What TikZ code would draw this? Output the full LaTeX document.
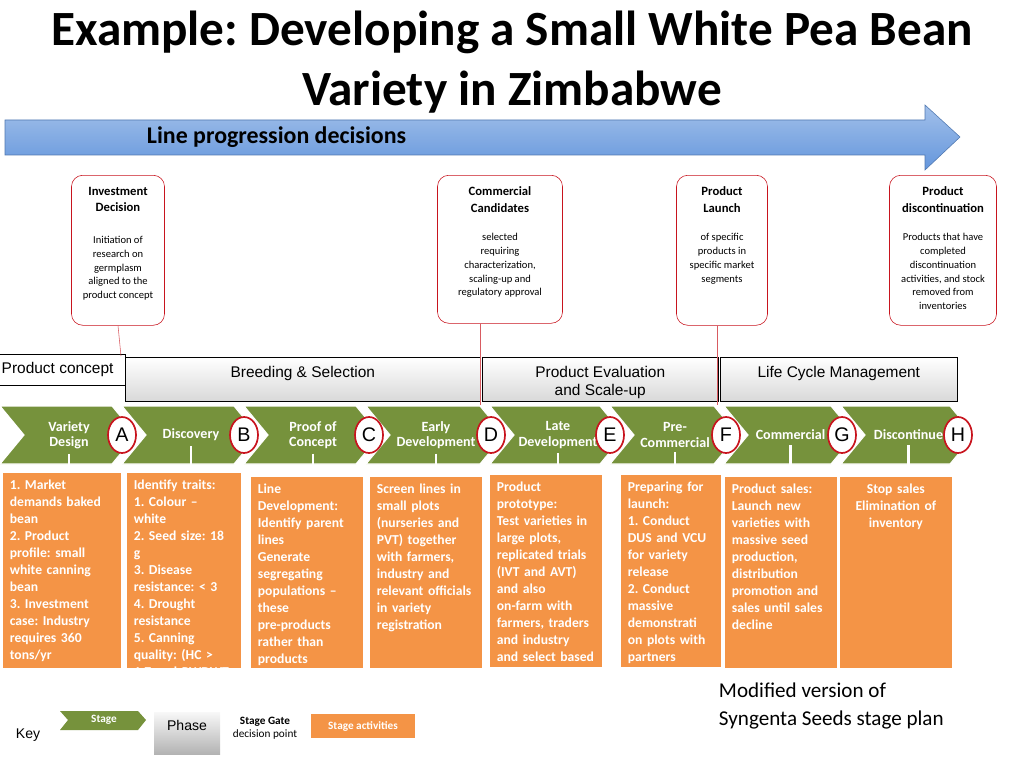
\documentclass[tikz,border=0pt]{standalone}
\usepackage{fontspec}
\setmainfont{Carlito}
\newfontfamily\arialfont{Liberation Sans}
\usetikzlibrary{positioning,shapes.geometric}
\definecolor{stagegreen}{RGB}{118,146,60}
\definecolor{actorange}{RGB}{244,148,70}
\definecolor{gatered}{RGB}{200,20,30}
\definecolor{arrowblue}{RGB}{100,150,220}
\frenchspacing
\newcommand{\acttext}[2]{\parbox[t][#1][t]{\linewidth}{\raggedright\hyphenpenalty=10000 #2}}
\tikzset{
  gate/.style={draw=gatered,fill=white,rounded corners=8pt,align=center,font=\fontsize{8}{10}\selectfont,anchor=north},
  phase/.style={draw=black,top color=white,bottom color=black!15,minimum height=44*0.025cm,font=\arialfont\fontsize{11}{13}\selectfont,align=center,inner sep=1pt},
  activity/.style={fill=actorange,draw=white,line width=2pt,anchor=north west,text=white,font=\bfseries\fontsize{9.7}{12.1}\selectfont,inner sep=6pt},
  letter/.style={ellipse,draw=gatered,very thick,fill=white,minimum width=28*0.025cm,minimum height=36*0.025cm,inner sep=0pt,font=\arialfont\fontsize{14}{14}\selectfont},
  stagetxt/.style={text=white,font=\bfseries\fontsize{10}{11}\selectfont,align=center}
}
\begin{document}
\begin{tikzpicture}[x=0.025cm,y=-0.025cm]
\useasboundingbox (0,0) rectangle (1024,768);
% title
\node[font=\bfseries\fontsize{35}{43}\selectfont,align=center] (title) at (512,62) {Example: Developing a Small White Pea Bean\\Variety in Zimbabwe};
% progression arrow
\draw[arrowblue!80!black,top color=arrowblue!60,bottom color=arrowblue] (5,120) -- (925,120) -- (925,105) -- (960,137) -- (925,170) -- (925,155) -- (5,155) -- cycle;
\node[anchor=west,font=\bfseries\fontsize{17}{20}\selectfont] (prog) at (142,137) {Line progression decisions};
% gate callouts
\node[gate,minimum width=93*0.025cm,minimum height=150*0.025cm] (inv) at (118,175) {};
\node[gate,minimum width=125*0.025cm,minimum height=148*0.025cm] (com) at (500,175) {};
\node[gate,minimum width=91*0.025cm,minimum height=150*0.025cm] (lau) at (722,175) {};
\node[gate,minimum width=107*0.025cm,minimum height=150*0.025cm] (dis) at (943,175) {};
\node[below=5pt of inv.north,font=\bfseries\fontsize{9}{11.5}\selectfont,align=center] {Investment\\Decision};
\node[below=40pt of inv.north,font=\fontsize{7.5}{9.8}\selectfont,align=center] {Initiation of\\research on\\germplasm\\aligned to the\\product concept};
\node[below=5pt of com.north,font=\bfseries\fontsize{9}{11.5}\selectfont,align=center] {Commercial\\Candidates};
\node[below=38pt of com.north,font=\fontsize{7.5}{9.8}\selectfont,align=center] {selected\\requiring\\characterization,\\scaling-up and\\regulatory approval};
\node[below=5pt of lau.north,font=\bfseries\fontsize{9}{11.5}\selectfont,align=center] {Product\\Launch};
\node[below=38pt of lau.north,font=\fontsize{7.5}{9.8}\selectfont,align=center] {of specific\\products in\\specific market\\segments};
\node[below=5pt of dis.north,font=\bfseries\fontsize{9}{11.5}\selectfont,align=center] {Product\\discontinuation};
\node[below=38pt of dis.north,font=\fontsize{7.5}{9.8}\selectfont,align=center] {Products that have\\completed\\discontinuation\\activities,  and stock\\removed from\\inventories};
% phases
\node[phase,anchor=north west,minimum width=127*0.025cm,minimum height=31*0.025cm,top color=white,bottom color=white] (ph0) at (-2,354) {};
\node[anchor=north west,font=\arialfont\fontsize{11}{13}\selectfont,inner sep=1pt] at (0,361) {Product concept};
\node[phase,anchor=north west,minimum width=355*0.025cm] (ph1) at (125,357) {};
\node[anchor=north,font=\arialfont\fontsize{11}{13}\selectfont] at (ph1.north) [yshift=-3pt] {Breeding \& Selection};
\node[phase,anchor=north west,minimum width=236*0.025cm] (ph2) at (482,357) {};
\node[anchor=north,font=\arialfont\fontsize{11}{13}\selectfont,align=center] at (ph2.north) [yshift=-3pt] {Product Evaluation\\and Scale-up};
\node[phase,anchor=north west,minimum width=237*0.025cm] (ph3) at (720,357) {};
\node[anchor=north,font=\arialfont\fontsize{11}{13}\selectfont] at (ph3.north) [yshift=-3pt] {Life Cycle Management};
\coordinate (c0) at (121,356);
\coordinate (c1) at (480,405);
\coordinate (c2) at (717,405);
\draw[gatered!70] (inv.south) -- (c0);
\draw[gatered!70] (com.south -| c1) -- (c1);
\draw[gatered!70] (lau.south -| c2) -- (c2);
% stages
\foreach \a/\b/\t [count=\i] in {0/122/Variety\\Design,122/244/Discovery,244/366/Proof of\\Concept,366/490/Early\\Development,490/610/Late\\Development,610/724/Pre-\\Commercial,724/841/Commercial,841/960/Discontinue}{
  \fill[stagegreen,draw=white,thick] (\a,406) -- (\b-10,406) -- (\b+14,435) -- (\b-10,464) -- (\a,464) -- (\a+24,435) -- cycle;
  \node[stagetxt] (s\i) at ({(\a+\b)/2+8},435) {\t};
}
\fill[white] (0,406) -- (24,435) -- (0,464) -- cycle;
\foreach \x/\l in {122/A,244/B,369/C,491/D,610/E,726/F,842/G,958/H}
  \node[letter] (g\l) at (\x,435) {\l};
% activities
\node[activity,text width=104*0.025cm] (a1) at (0,470) {\acttext{129pt}{1. Market demands  baked bean\\2. Product profile: small white canning bean\\3. Investment case:  Industry requires 360 tons/yr}};
\node[activity,text width=100*0.025cm] (a2) at (124,470) {\acttext{129pt}{Identify traits:\\1. Colour -- white\\2. Seed size: 18 g\\3. Disease resistance: < 3\\4. Drought resistance\\5. Canning quality: (HC > 1.7 and PWDWT > 80\%)}};
\node[activity,text width=98*0.025cm] (a3) at (248,474) {\acttext{126pt}{Line Development: Identify parent lines\\Generate segregating populations -- these  pre-products rather than products}};
\node[activity,text width=98*0.025cm] (a4) at (367,474) {\acttext{126pt}{Screen lines in small plots (nurseries and PVT) together with farmers, industry and relevant officials in variety registration}};
\node[activity,text width=98*0.025cm] (a5) at (487,472) {\acttext{127pt}{Product prototype:\\Test varieties in large plots, replicated trials (IVT and AVT) and also on-farm with farmers, traders and industry and select based on set criteria}};
\node[activity,text width=86*0.025cm] (a6) at (618,472) {\acttext{127pt}{Preparing for launch:\\1. Conduct DUS and VCU for variety release\\2. Conduct massive demonstrati on plots with partners}};
\node[activity,text width=98*0.025cm] (a7) at (722,474) {\acttext{126pt}{Product sales: Launch new varieties with massive seed production, distribution promotion and sales until sales decline}};
\node[activity,text width=98*0.025cm] (a8) at (837,474) {\parbox[t][126pt][t]{\linewidth}{\centering Stop sales\\Elimination of\\inventory}};
\foreach \i in {1,...,8} \draw[white,line width=2pt] (s\i.south) -- (s\i.south |- a\i.north);
% note
\node[anchor=north west,align=left,font=\fontsize{15}{20}\selectfont] (note) at (714,678) {Modified version of\\Syngenta Seeds stage plan};
% key
\node[font=\arialfont\fontsize{10}{12}\selectfont] (key) at (28,735) {Key};
\fill[stagegreen] (60,711) -- (138,711) -- (146,720) -- (138,730) -- (60,730) -- (68,720) -- cycle;
\node[stagetxt,font=\bfseries\fontsize{8}{9}\selectfont] (kst) at (104,720) {Stage};
\node[phase,draw=none,top color=black!3,bottom color=black!30,minimum width=66*0.025cm,minimum height=42*0.025cm,anchor=north] (kph) at (187,712) {};
\node[font=\arialfont\fontsize{10}{12}\selectfont] at (187,725) {Phase};
\node[align=center,font=\fontsize{8}{9.5}\selectfont] (kga) at (265,728) {\textbf{Stage Gate}\\decision point};
\node[fill=actorange,text=white,font=\bfseries\fontsize{8}{9}\selectfont,minimum width=104*0.025cm,minimum height=24*0.025cm] (kac) at (363,726) {Stage activities};
\end{tikzpicture}
\end{document}
